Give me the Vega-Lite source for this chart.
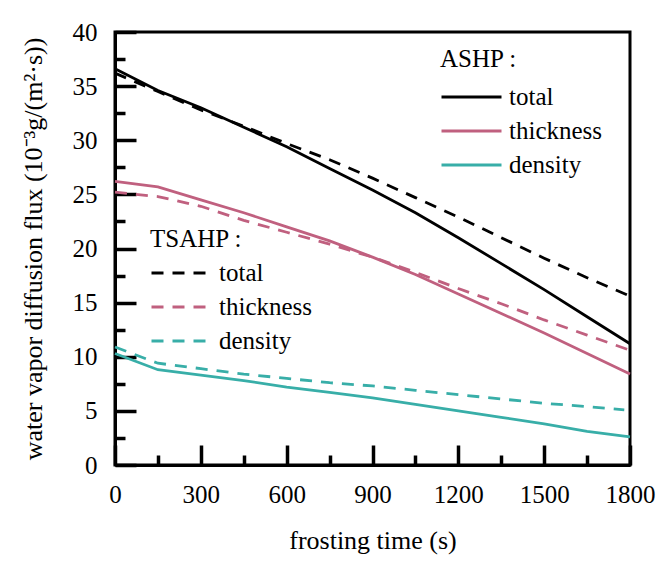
{
  "$schema": "https://vega.github.io/schema/vega-lite/v6.json",
  "width": 515,
  "height": 433,
  "autosize": {"type": "none"},
  "padding": {"left": 115, "top": 32, "right": 30, "bottom": 98},
  "background": "white",
  "config": {
    "font": "Liberation Serif",
    "view": {"stroke": "black", "strokeWidth": 3},
    "axis": {
      "grid": false,
      "labelFont": "Liberation Serif",
      "labelFontSize": 25,
      "labelColor": "black",
      "titleFont": "Liberation Serif",
      "titleFontSize": 26,
      "titleFontWeight": "normal",
      "titleColor": "black",
      "domainColor": "black",
      "domainWidth": 3,
      "tickColor": "black",
      "tickWidth": 3.5
    },
    "legend": {
      "labelFont": "Liberation Serif",
      "labelFontSize": 25,
      "labelColor": "black",
      "titleFont": "Liberation Serif",
      "titleFontSize": 25,
      "titleFontWeight": "normal",
      "titleColor": "black"
    }
  },
  "data": {
    "values": [
      {"t": 0, "v": 36.6, "sys": "ASHP", "comp": "total"},
      {"t": 150, "v": 34.6, "sys": "ASHP", "comp": "total"},
      {"t": 300, "v": 33.0, "sys": "ASHP", "comp": "total"},
      {"t": 450, "v": 31.2, "sys": "ASHP", "comp": "total"},
      {"t": 600, "v": 29.4, "sys": "ASHP", "comp": "total"},
      {"t": 750, "v": 27.4, "sys": "ASHP", "comp": "total"},
      {"t": 900, "v": 25.4, "sys": "ASHP", "comp": "total"},
      {"t": 1050, "v": 23.3, "sys": "ASHP", "comp": "total"},
      {"t": 1200, "v": 21.0, "sys": "ASHP", "comp": "total"},
      {"t": 1350, "v": 18.6, "sys": "ASHP", "comp": "total"},
      {"t": 1500, "v": 16.2, "sys": "ASHP", "comp": "total"},
      {"t": 1650, "v": 13.7, "sys": "ASHP", "comp": "total"},
      {"t": 1800, "v": 11.2, "sys": "ASHP", "comp": "total"},
      {"t": 0, "v": 26.2, "sys": "ASHP", "comp": "thickness"},
      {"t": 150, "v": 25.7, "sys": "ASHP", "comp": "thickness"},
      {"t": 300, "v": 24.5, "sys": "ASHP", "comp": "thickness"},
      {"t": 450, "v": 23.3, "sys": "ASHP", "comp": "thickness"},
      {"t": 600, "v": 22.0, "sys": "ASHP", "comp": "thickness"},
      {"t": 750, "v": 20.7, "sys": "ASHP", "comp": "thickness"},
      {"t": 900, "v": 19.2, "sys": "ASHP", "comp": "thickness"},
      {"t": 1050, "v": 17.6, "sys": "ASHP", "comp": "thickness"},
      {"t": 1200, "v": 15.8, "sys": "ASHP", "comp": "thickness"},
      {"t": 1350, "v": 14.0, "sys": "ASHP", "comp": "thickness"},
      {"t": 1500, "v": 12.2, "sys": "ASHP", "comp": "thickness"},
      {"t": 1650, "v": 10.3, "sys": "ASHP", "comp": "thickness"},
      {"t": 1800, "v": 8.4, "sys": "ASHP", "comp": "thickness"},
      {"t": 0, "v": 10.3, "sys": "ASHP", "comp": "density"},
      {"t": 150, "v": 8.8, "sys": "ASHP", "comp": "density"},
      {"t": 300, "v": 8.3, "sys": "ASHP", "comp": "density"},
      {"t": 450, "v": 7.8, "sys": "ASHP", "comp": "density"},
      {"t": 600, "v": 7.2, "sys": "ASHP", "comp": "density"},
      {"t": 750, "v": 6.7, "sys": "ASHP", "comp": "density"},
      {"t": 900, "v": 6.2, "sys": "ASHP", "comp": "density"},
      {"t": 1050, "v": 5.6, "sys": "ASHP", "comp": "density"},
      {"t": 1200, "v": 5.0, "sys": "ASHP", "comp": "density"},
      {"t": 1350, "v": 4.4, "sys": "ASHP", "comp": "density"},
      {"t": 1500, "v": 3.8, "sys": "ASHP", "comp": "density"},
      {"t": 1650, "v": 3.1, "sys": "ASHP", "comp": "density"},
      {"t": 1800, "v": 2.6, "sys": "ASHP", "comp": "density"},
      {"t": 0, "v": 36.2, "sys": "TSAHP", "comp": "total"},
      {"t": 150, "v": 34.5, "sys": "TSAHP", "comp": "total"},
      {"t": 300, "v": 32.8, "sys": "TSAHP", "comp": "total"},
      {"t": 450, "v": 31.3, "sys": "TSAHP", "comp": "total"},
      {"t": 600, "v": 29.7, "sys": "TSAHP", "comp": "total"},
      {"t": 750, "v": 28.2, "sys": "TSAHP", "comp": "total"},
      {"t": 900, "v": 26.5, "sys": "TSAHP", "comp": "total"},
      {"t": 1050, "v": 24.7, "sys": "TSAHP", "comp": "total"},
      {"t": 1200, "v": 22.9, "sys": "TSAHP", "comp": "total"},
      {"t": 1350, "v": 21.0, "sys": "TSAHP", "comp": "total"},
      {"t": 1500, "v": 19.1, "sys": "TSAHP", "comp": "total"},
      {"t": 1650, "v": 17.3, "sys": "TSAHP", "comp": "total"},
      {"t": 1800, "v": 15.6, "sys": "TSAHP", "comp": "total"},
      {"t": 0, "v": 25.2, "sys": "TSAHP", "comp": "thickness"},
      {"t": 150, "v": 24.8, "sys": "TSAHP", "comp": "thickness"},
      {"t": 300, "v": 23.9, "sys": "TSAHP", "comp": "thickness"},
      {"t": 450, "v": 22.6, "sys": "TSAHP", "comp": "thickness"},
      {"t": 600, "v": 21.5, "sys": "TSAHP", "comp": "thickness"},
      {"t": 750, "v": 20.4, "sys": "TSAHP", "comp": "thickness"},
      {"t": 900, "v": 19.2, "sys": "TSAHP", "comp": "thickness"},
      {"t": 1050, "v": 17.8, "sys": "TSAHP", "comp": "thickness"},
      {"t": 1200, "v": 16.3, "sys": "TSAHP", "comp": "thickness"},
      {"t": 1350, "v": 14.9, "sys": "TSAHP", "comp": "thickness"},
      {"t": 1500, "v": 13.4, "sys": "TSAHP", "comp": "thickness"},
      {"t": 1650, "v": 12.0, "sys": "TSAHP", "comp": "thickness"},
      {"t": 1800, "v": 10.6, "sys": "TSAHP", "comp": "thickness"},
      {"t": 0, "v": 10.9, "sys": "TSAHP", "comp": "density"},
      {"t": 150, "v": 9.4, "sys": "TSAHP", "comp": "density"},
      {"t": 300, "v": 8.9, "sys": "TSAHP", "comp": "density"},
      {"t": 450, "v": 8.4, "sys": "TSAHP", "comp": "density"},
      {"t": 600, "v": 8.0, "sys": "TSAHP", "comp": "density"},
      {"t": 750, "v": 7.6, "sys": "TSAHP", "comp": "density"},
      {"t": 900, "v": 7.3, "sys": "TSAHP", "comp": "density"},
      {"t": 1050, "v": 6.9, "sys": "TSAHP", "comp": "density"},
      {"t": 1200, "v": 6.5, "sys": "TSAHP", "comp": "density"},
      {"t": 1350, "v": 6.1, "sys": "TSAHP", "comp": "density"},
      {"t": 1500, "v": 5.7, "sys": "TSAHP", "comp": "density"},
      {"t": 1650, "v": 5.4, "sys": "TSAHP", "comp": "density"},
      {"t": 1780, "v": 5.1, "sys": "TSAHP", "comp": "density"}
    ]
  },
  "encoding": {
    "x": {
      "field": "t",
      "type": "quantitative",
      "scale": {"domain": [0, 1800], "nice": false},
      "axis": {
        "title": "frosting time (s)",
        "values": [0, 150, 300, 450, 600, 750, 900, 1050, 1200, 1350, 1500, 1650, 1800],
        "labelExpr": "datum.value % 300 === 0 ? datum.value : ''",
        "tickSize": {"condition": {"test": "datum.value % 300 === 0", "value": -20}, "value": -10},
        "labelPadding": 37,
        "titlePadding": 20,
        "labelFlush": false
      }
    },
    "y": {
      "field": "v",
      "type": "quantitative",
      "scale": {"domain": [0, 40], "nice": false},
      "axis": {
        "title": "water vapor diffusion flux  (10⁻³g/(m²·s))",
        "values": [0, 2.5, 5, 7.5, 10, 12.5, 15, 17.5, 20, 22.5, 25, 27.5, 30, 32.5, 35, 37.5, 40],
        "labelExpr": "datum.value % 5 === 0 ? datum.value : ''",
        "tickSize": {"condition": {"test": "datum.value % 5 === 0", "value": -21}, "value": -10},
        "labelPadding": 39,
        "titlePadding": 26,
        "labelFlush": false
      }
    }
  },
  "layer": [
    {
      "transform": [{"filter": "datum.sys === 'ASHP'"}],
      "mark": {"type": "line", "strokeWidth": 2.8},
      "encoding": {
        "color": {
          "field": "comp",
          "type": "nominal",
          "scale": {"domain": ["total", "thickness", "density"], "range": ["#000000", "#c0607f", "#38aea8"]},
          "legend": {
            "title": "ASHP :",
            "orient": "none",
            "legendX": 325,
            "legendY": 15,
            "symbolType": "stroke",
            "symbolSize": 3600,
            "symbolStrokeWidth": 2.8,
            "clipHeight": 24,
            "rowPadding": 9,
            "titlePadding": 13,
            "labelOffset": 6
          }
        }
      }
    },
    {
      "transform": [{"filter": "datum.sys === 'TSAHP'"}],
      "mark": {"type": "line", "strokeWidth": 2.8, "strokeDash": [12, 9]},
      "encoding": {
        "color": {
          "field": "comp",
          "type": "nominal",
          "scale": {"domain": ["total", "thickness", "density"], "range": ["#000000", "#c0607f", "#38aea8"]},
          "legend": {
            "title": "TSAHP :",
            "orient": "none",
            "legendX": 35,
            "legendY": 195,
            "symbolType": "stroke",
            "symbolSize": 3600,
            "symbolStrokeWidth": 2.8,
            "symbolDash": [12, 9],
            "clipHeight": 24,
            "rowPadding": 9,
            "titlePadding": 9,
            "labelOffset": 6
          }
        }
      }
    }
  ],
  "resolve": {"scale": {"color": "independent"}}
}
